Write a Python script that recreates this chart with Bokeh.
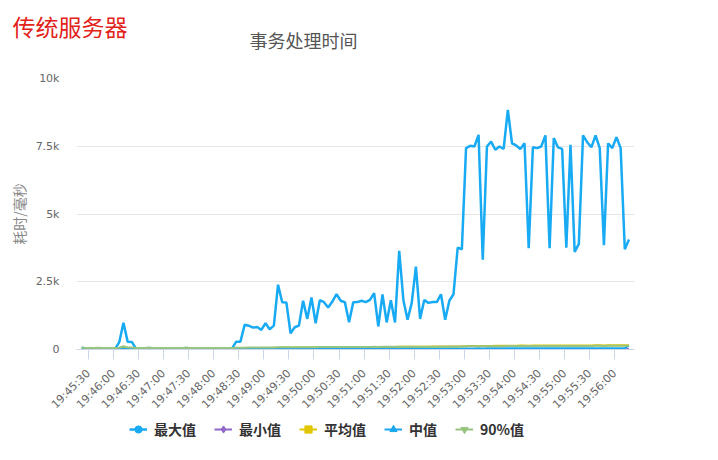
import pandas as pd
from math import pi
from bokeh.plotting import figure
from bokeh.layouts import column, row
from bokeh.models import (Range1d, FixedTicker, DatetimeTickFormatter, NumeralTickFormatter,
                          Label, Title, Legend, LegendItem, Spacer)
from bokeh.embed import file_html
from bokeh.resources import INLINE

CJK = "Noto Sans CJK SC"

# sample times, one every 5 s
times = pd.date_range("2019-01-01 19:45:22", periods=132, freq="5s")

tick_labels = ["19:45:30", "19:46:00", "19:46:30", "19:47:00", "19:47:30", "19:48:00",
               "19:48:30", "19:49:00", "19:49:30", "19:50:00", "19:50:30", "19:51:00",
               "19:51:30", "19:52:00", "19:52:30", "19:53:00", "19:53:30", "19:54:00",
               "19:54:30", "19:55:00", "19:55:30", "19:56:00"]
y_ticks = [0, 2500, 5000, 7500, 10000]

series_names = ["最大值", "最小值", "平均值", "中值", "90%值"]

max_vals = [70, 30, 25, 30, 45, 25, 30, 35, 25, 270, 990, 290,
            280, 30, 35, 30, 55, 45, 30, 40, 30, 50, 35, 30,
            40, 55, 35, 30, 45, 40, 35, 50, 30, 40, 35, 30,
            40, 290, 290, 910, 880, 810, 830, 725, 970, 750, 880, 2390,
            1745, 1730, 600, 820, 880, 1800, 1130, 1920, 970, 1820, 1745, 1550,
            1770, 2040, 1800, 1745, 1010, 1745, 1750, 1800, 1750, 1830, 2080, 850,
            2030, 1000, 1820, 1000, 3640, 1830, 1095, 1720, 3060, 1130, 1830, 1720,
            1750, 1750, 2040, 1095, 1800, 2040, 3760, 3700, 7430, 7515, 7490, 7920,
            3310, 7490, 7670, 7370, 7490, 7400, 8840, 7610, 7530, 7400, 7610, 3740,
            7460, 7430, 7490, 7900, 3740, 7800, 7460, 7400, 3760, 7550, 3600, 3900,
            7900, 7650, 7460, 7900, 7430, 3850, 7610, 7430, 7830, 7430, 3700, 4060]

min_vals = [12, 10, 9, 11, 10, 9, 10, 12, 9, 10, 11, 10,
            9, 10, 11, 9, 10, 10, 9, 11, 10, 9, 10, 11,
            10, 9, 10, 11, 10, 9, 10, 10, 9, 11, 10, 10,
            9, 10, 11, 10, 9, 10, 10, 11, 10, 9, 10, 11,
            10, 10, 9, 11, 10, 10, 9, 10, 11, 10, 9, 10,
            11, 10, 10, 9, 10, 11, 10, 10, 9, 10, 11, 10,
            10, 9, 11, 10, 10, 9, 10, 11, 10, 10, 9, 10,
            12, 11, 12, 13, 11, 12, 12, 13, 12, 11, 12, 13,
            12, 12, 13, 12, 11, 12, 13, 12, 12, 13, 12, 11,
            13, 12, 12, 13, 12, 12, 11, 13, 12, 12, 13, 12,
            12, 13, 12, 12, 13, 12, 11, 12, 13, 12, 12, 14]

avg_vals = [38, 32, 30, 31, 33, 30, 31, 32, 30, 45, 80, 48,
            46, 32, 31, 30, 33, 32, 30, 31, 30, 32, 31, 30,
            31, 33, 31, 30, 32, 31, 30, 32, 30, 31, 31, 30,
            31, 40, 42, 50, 52, 53, 55, 54, 58, 57, 60, 68,
            70, 71, 68, 70, 72, 76, 75, 78, 77, 80, 81, 82,
            84, 86, 87, 88, 86, 88, 90, 91, 92, 93, 95, 93,
            95, 94, 96, 95, 100, 101, 100, 102, 106, 104, 105, 106,
            107, 108, 110, 108, 109, 111, 115, 117, 124, 127, 129, 131,
            128, 131, 133, 134, 135, 136, 141, 141, 142, 143, 144, 142,
            143, 144, 145, 147, 145, 147, 148, 148, 147, 149, 148, 148,
            150, 151, 152, 153, 153, 152, 153, 154, 155, 155, 153, 158]

median_vals = [22, 18, 17, 18, 19, 17, 18, 19, 17, 20, 24, 21,
               20, 18, 17, 18, 19, 18, 17, 18, 17, 18, 18, 17,
               18, 19, 18, 17, 18, 18, 17, 18, 17, 18, 18, 17,
               18, 20, 21, 23, 24, 24, 25, 24, 26, 25, 26, 28,
               28, 28, 27, 28, 29, 30, 29, 30, 30, 31, 31, 31,
               32, 32, 33, 33, 32, 33, 33, 34, 34, 34, 35, 34,
               35, 34, 35, 35, 36, 36, 36, 36, 37, 37, 37, 37,
               38, 38, 38, 38, 38, 39, 39, 40, 40, 41, 41, 42,
               41, 42, 42, 42, 43, 43, 44, 44, 44, 44, 45, 44,
               45, 45, 45, 46, 45, 46, 46, 46, 46, 47, 46, 47,
               47, 47, 48, 48, 48, 47, 48, 48, 49, 49, 48, 140]

p90_vals = [70, 58, 56, 57, 60, 56, 57, 58, 56, 65, 120, 72,
            70, 58, 57, 56, 60, 58, 56, 57, 58, 57, 58, 56,
            57, 60, 57, 56, 58, 57, 56, 58, 56, 57, 58, 56,
            57, 62, 64, 68, 70, 70, 71, 70, 73, 72, 74, 80,
            82, 82, 80, 82, 84, 86, 85, 87, 86, 88, 88, 89,
            90, 92, 92, 93, 91, 93, 94, 95, 95, 96, 97, 96,
            98, 97, 98, 98, 101, 101, 101, 102, 104, 103, 104, 104,
            105, 106, 107, 106, 107, 108, 111, 112, 116, 118, 119, 120,
            118, 120, 121, 122, 122, 123, 126, 126, 127, 127, 128, 127,
            128, 128, 129, 130, 129, 130, 131, 131, 130, 132, 131, 131,
            132, 133, 133, 134, 134, 133, 134, 135, 135, 136, 134, 140]

colors = ["#18aaf3", "#9068c8", "#e2c700", "#1aa6ee", "#97c47e"]
markers = ["circle", "diamond", "square", "triangle", "inverted_triangle"]
widths = [2.5, 2, 2, 2, 2]

SHIFT = 5
W = 702 - SHIFT
HEAD_H, MAIN_H, FOOT_H = 60, 359, 25
LEFT, RIGHT = 64, 68


def blank(h, top=0):
    f = figure(width=W, height=h, x_range=Range1d(0, 1), y_range=Range1d(0, 1),
               output_backend="svg", toolbar_location=None,
               x_axis_location=None, y_axis_location=None, min_border=0,
               min_border_top=top, min_border_left=LEFT, min_border_right=RIGHT)
    f.grid.grid_line_color = None
    f.outline_line_color = None
    return f


# header: red caption as a title, chart title as a label in the frame
head = blank(HEAD_H, top=30)
head.add_layout(Title(text="传统服务器", align="left", offset=-64, standoff=-25,
                      text_font=CJK, text_font_size="23px", text_font_style="normal",
                      text_color="#e2231a"), "above")
head.add_layout(Label(x=173, y=21, x_units="screen", y_units="screen", text="事务处理时间",
                      text_font=CJK, text_font_size="18px", text_color="#555555",
                      text_baseline="middle"))

day = "2019-01-01 "
tick_ms = [pd.Timestamp(day + t).value / 1e6 for t in tick_labels]

p = figure(width=W, height=MAIN_H, x_axis_type="datetime",
           x_range=Range1d(pd.Timestamp(day + "19:45:15.8"), pd.Timestamp(day + "19:56:23.6")),
           y_range=Range1d(0, 10000),
           output_backend="svg", toolbar_location=None,
           min_border_left=LEFT, min_border_right=RIGHT, min_border_top=18, min_border_bottom=70)
p.outline_line_color = None

# y axis
p.yaxis.ticker = FixedTicker(ticks=y_ticks)
p.yaxis.formatter = NumeralTickFormatter(format="0.[0]a")
p.yaxis.axis_line_color = None
p.yaxis.major_tick_line_color = None
p.yaxis.minor_tick_line_color = None
p.yaxis.major_tick_out = 0
p.yaxis.major_label_standoff = 17
p.yaxis.major_label_text_font = "DejaVu Sans"
p.yaxis.major_label_text_font_size = "11px"
p.yaxis.major_label_text_color = "#666666"
p.yaxis.axis_label = "耗时/毫秒"
p.yaxis.axis_label_text_font = CJK
p.yaxis.axis_label_text_font_size = "14px"
p.yaxis.axis_label_text_font_style = "normal"
p.yaxis.axis_label_text_color = "#888888"
p.yaxis.axis_label_standoff = 4
p.ygrid.grid_line_color = "#e6e6e6"
p.xgrid.grid_line_color = None

# x axis
p.xaxis.ticker = FixedTicker(ticks=tick_ms)
fmt = "%H:%M:%S"
p.xaxis.formatter = DatetimeTickFormatter(seconds=fmt, minsec=fmt, minutes=fmt,
                                          hourmin=fmt, hours=fmt)
p.xaxis.axis_line_color = "#ccd6eb"
p.xaxis.major_tick_line_color = "#ccd6eb"
p.xaxis.major_tick_out = 10
p.xaxis.major_tick_in = 0
p.xaxis.minor_tick_line_color = None
p.xaxis.major_label_orientation = pi / 4
p.xaxis.major_label_standoff = 12
p.xaxis.major_label_text_font = "DejaVu Sans"
p.xaxis.major_label_text_font_size = "11px"
p.xaxis.major_label_text_color = "#666666"

all_vals = [max_vals, min_vals, avg_vals, median_vals, p90_vals]
for vals, c, w in zip(all_vals, colors, widths):
    p.line(times, vals, line_color=c, line_width=w)

# footer holding the legend; its sample glyphs sit outside the footer range
foot = blank(FOOT_H)
items = []
for name, c, m, w in zip(series_names, colors, markers, widths):
    ln = foot.line(x=[0.5], y=[9], line_color=c, line_width=w)
    mk = foot.scatter(x=[0.5], y=[9], marker=m, size=8, color=c)
    items.append(LegendItem(label=name, renderers=[ln, mk]))
legend = Legend(items=items, orientation="horizontal", location=(53, 5),
                border_line_color=None, background_fill_alpha=0,
                padding=0, margin=0, spacing=18, glyph_width=18, glyph_height=20,
                label_standoff=7, label_height=20, label_text_font=CJK,
                label_text_font_size="14px", label_text_font_style="bold",
                label_text_color="#333333")
foot.add_layout(legend)

layout = row(Spacer(width=SHIFT, height=HEAD_H + MAIN_H + FOOT_H),
             column(head, p, foot, spacing=0), spacing=0)
open("out.html", "w").write(file_html(layout, INLINE))
